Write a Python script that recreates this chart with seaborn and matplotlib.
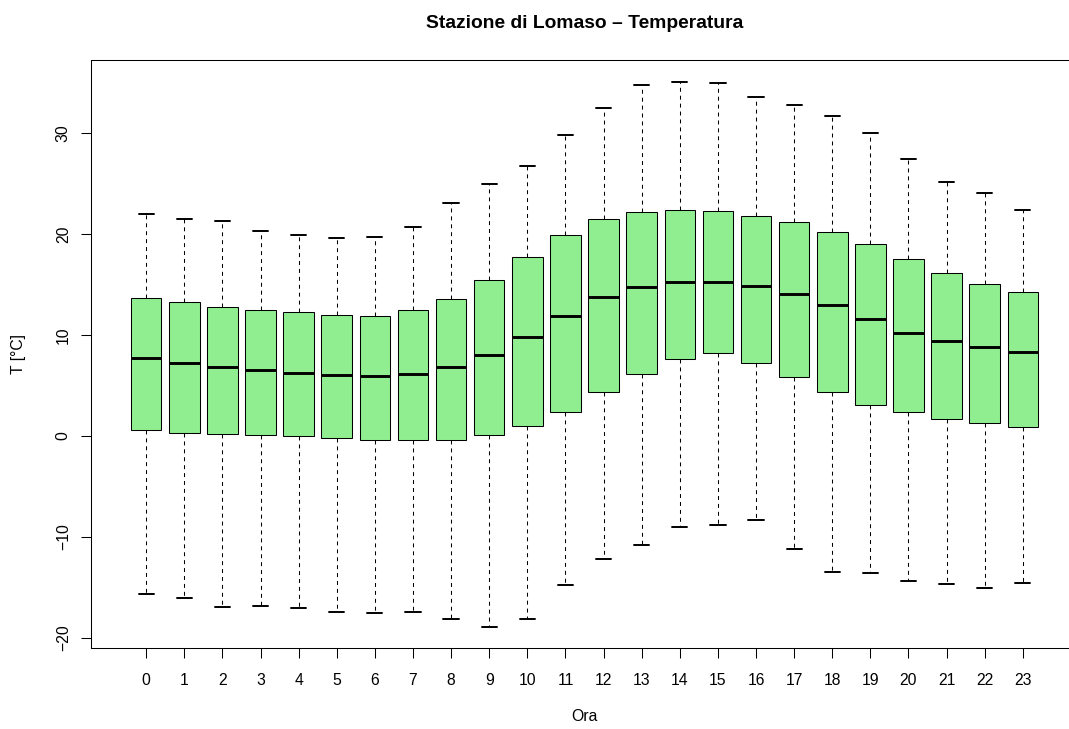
import matplotlib
matplotlib.use("Agg")
import matplotlib.pyplot as plt
import numpy as np
import pandas as pd
import seaborn as sns

# ---- data ----
hours = list(range(24))
w_low = [-15.7, -16.1, -17.0, -16.9, -17.1, -17.5, -17.6, -17.5, -18.2, -18.9, -18.2, -14.8,
         -12.2, -10.8, -9.0, -8.8, -8.3, -11.2, -13.5, -13.6, -14.4, -14.7, -15.1, -14.6]
q1 = [0.6, 0.3, 0.2, 0.1, 0.0, -0.2, -0.4, -0.4, -0.4, 0.1, 1.0, 2.4,
      4.3, 6.1, 7.6, 8.2, 7.2, 5.8, 4.3, 3.1, 2.4, 1.7, 1.25, 0.85]
med = [7.7, 7.25, 6.8, 6.5, 6.2, 6.0, 5.9, 6.1, 6.8, 8.05, 9.8, 11.9,
       13.75, 14.75, 15.3, 15.3, 14.85, 14.1, 13.0, 11.6, 10.2, 9.45, 8.8, 8.3]
q3 = [13.7, 13.3, 12.8, 12.5, 12.25, 11.95, 11.85, 12.45, 13.6, 15.45, 17.7, 19.9,
      21.5, 22.2, 22.4, 22.3, 21.8, 21.2, 20.25, 19.0, 17.5, 16.1, 15.1, 14.3]
w_high = [22.0, 21.5, 21.3, 20.3, 19.9, 19.6, 19.7, 20.7, 23.1, 25.0, 26.8, 29.8,
          32.5, 34.8, 35.1, 35.0, 33.6, 32.8, 31.7, 30.0, 27.4, 25.2, 24.1, 22.4]
yticks = [-20, -10, 0, 10, 20, 30]
ytick_labels = ["\u221220", "\u221210", "0", "10", "20", "30"]
title = "Stazione di Lomaso \u2013 Temperatura"
xlabel = "Ora"
ylabel = "T [\u00b0C]"

# five-number summaries -> five points per hour (exact quartiles with linear percentiles)
rows = []
for h, a, b, c, d, e in zip(hours, w_low, q1, med, q3, w_high):
    for v in (a, b, c, d, e):
        rows.append((str(h), v))
df = pd.DataFrame(rows, columns=["Ora", "T"])

sns.set_theme(style="ticks")
plt.rcParams['font.family'] = ['Liberation Sans', 'DejaVu Sans']

W, H, DPI = 1069, 729, 100
fig = plt.figure(figsize=(W / DPI, H / DPI), dpi=DPI)
ax_left, ax_right, ax_top, ax_bot = 90.5, 1078.5, 60, 648.3
ax = fig.add_axes([ax_left / W, (H - ax_bot) / H, (ax_right - ax_left) / W, (ax_bot - ax_top) / H])

lw = 0.75
sns.boxplot(
    data=df, x="Ora", y="T", order=[str(h) for h in hours],
    color="#90EE90", saturation=1, width=0.8, whis=(0, 100),
    showfliers=False, linecolor="black", linewidth=lw, ax=ax,
    boxprops=dict(edgecolor="black", linewidth=lw),
    whiskerprops=dict(color="black", linewidth=lw, linestyle=(0, (3.8, 3.8))),
    capprops=dict(color="black", linewidth=1.4),
    medianprops=dict(color="black", linewidth=2.1),
)

lo, hi = min(w_low), max(w_high)
pad = 0.04 * (hi - lo)
ax.set_ylim(lo - pad, hi + pad)
n = len(hours)
ax.set_xlim(-0.5 - 0.04 * n, n - 0.5 + 0.04 * n)

ax.set_yticks(yticks)
ax.set_yticklabels(ytick_labels, rotation=90, va="center")
ax.set_xticks(range(n))
ax.set_xticklabels([str(h) for h in hours])

ax.tick_params(axis="both", direction="out", length=7.2, width=lw, color="black",
               labelsize=11.3, labelcolor="black")
ax.tick_params(axis="x", pad=10.5)
ax.tick_params(axis="y", pad=7.0)

for s in ax.spines.values():
    s.set_visible(True)
    s.set_color("black")
    s.set_linewidth(lw)

ax.set_xlabel(xlabel, fontsize=11.3, color="black")
ax.set_ylabel(ylabel, fontsize=11.3, color="black")
ax.xaxis.set_label_coords(0.5, (ax_bot - 709) / (ax_bot - ax_top))
ax.yaxis.set_label_coords((26 - ax_left) / (ax_right - ax_left), 0.5)

fig.text((ax_left + ax_right) / 2 / W, (H - 27.7) / H, title, ha="center", va="baseline",
         fontsize=13.9, fontweight="bold", color="black")

fig.savefig("out.png", dpi=DPI)
